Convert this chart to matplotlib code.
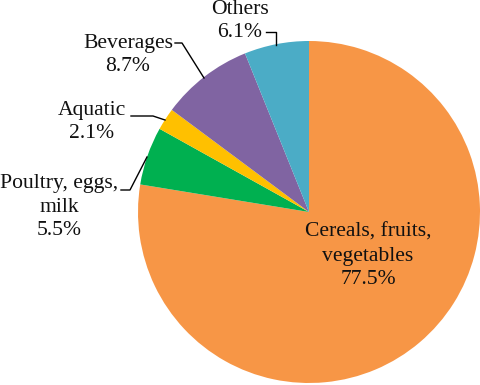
import matplotlib
matplotlib.use("Agg")
import matplotlib.pyplot as plt

categories = ["Cereals, fruits,\nvegetables", "Poultry, eggs,\nmilk", "Aquatic", "Beverages", "Others"]
values = [77.5, 5.5, 2.1, 8.7, 6.1]
colors = ["#F79646", "#00B050", "#FFC000", "#8064A2", "#4BACC6"]

W, H = 480, 385
fig = plt.figure(figsize=(W / 100, H / 100), dpi=100)
ax = fig.add_axes([0, 0, 1, 1])

cx, cy, r = 309, H - 212, 171
ax.pie(values, colors=colors, startangle=90, counterclock=False,
       center=(cx, cy), radius=r, frame=True)
ax.set_xlim(0, W)
ax.set_ylim(0, H)
ax.set_aspect("equal")
ax.axis("off")

font = dict(family="Liberation Serif", fontsize=15.6, color="#111111",
            ha="center", va="center", linespacing=1.33)

def lab(i):
    return f"{categories[i]}\n{values[i]}%"

def Y(y):
    return H - y

ax.text(368, Y(256), lab(0), **font)
ax.text(59, Y(207), lab(1), **font)
ax.text(92, Y(122), lab(2), **font)
ax.text(128, Y(55), lab(3), **font)
ax.text(240, Y(21), lab(4), **font)

lk = dict(color="black", lw=1.0)
# Others
ax.plot([266, 276, 276], [Y(32), Y(32), Y(45)], **lk)
# Beverages
ax.plot([175, 182, 204], [Y(43), Y(43), Y(78)], **lk)
# Aquatic
ax.plot([131, 153, 165], [Y(116), Y(116), Y(120)], **lk)
# Poultry
ax.plot([121, 130, 147], [Y(190), Y(190), Y(157)], **lk)

fig.savefig("out.png", dpi=100)
